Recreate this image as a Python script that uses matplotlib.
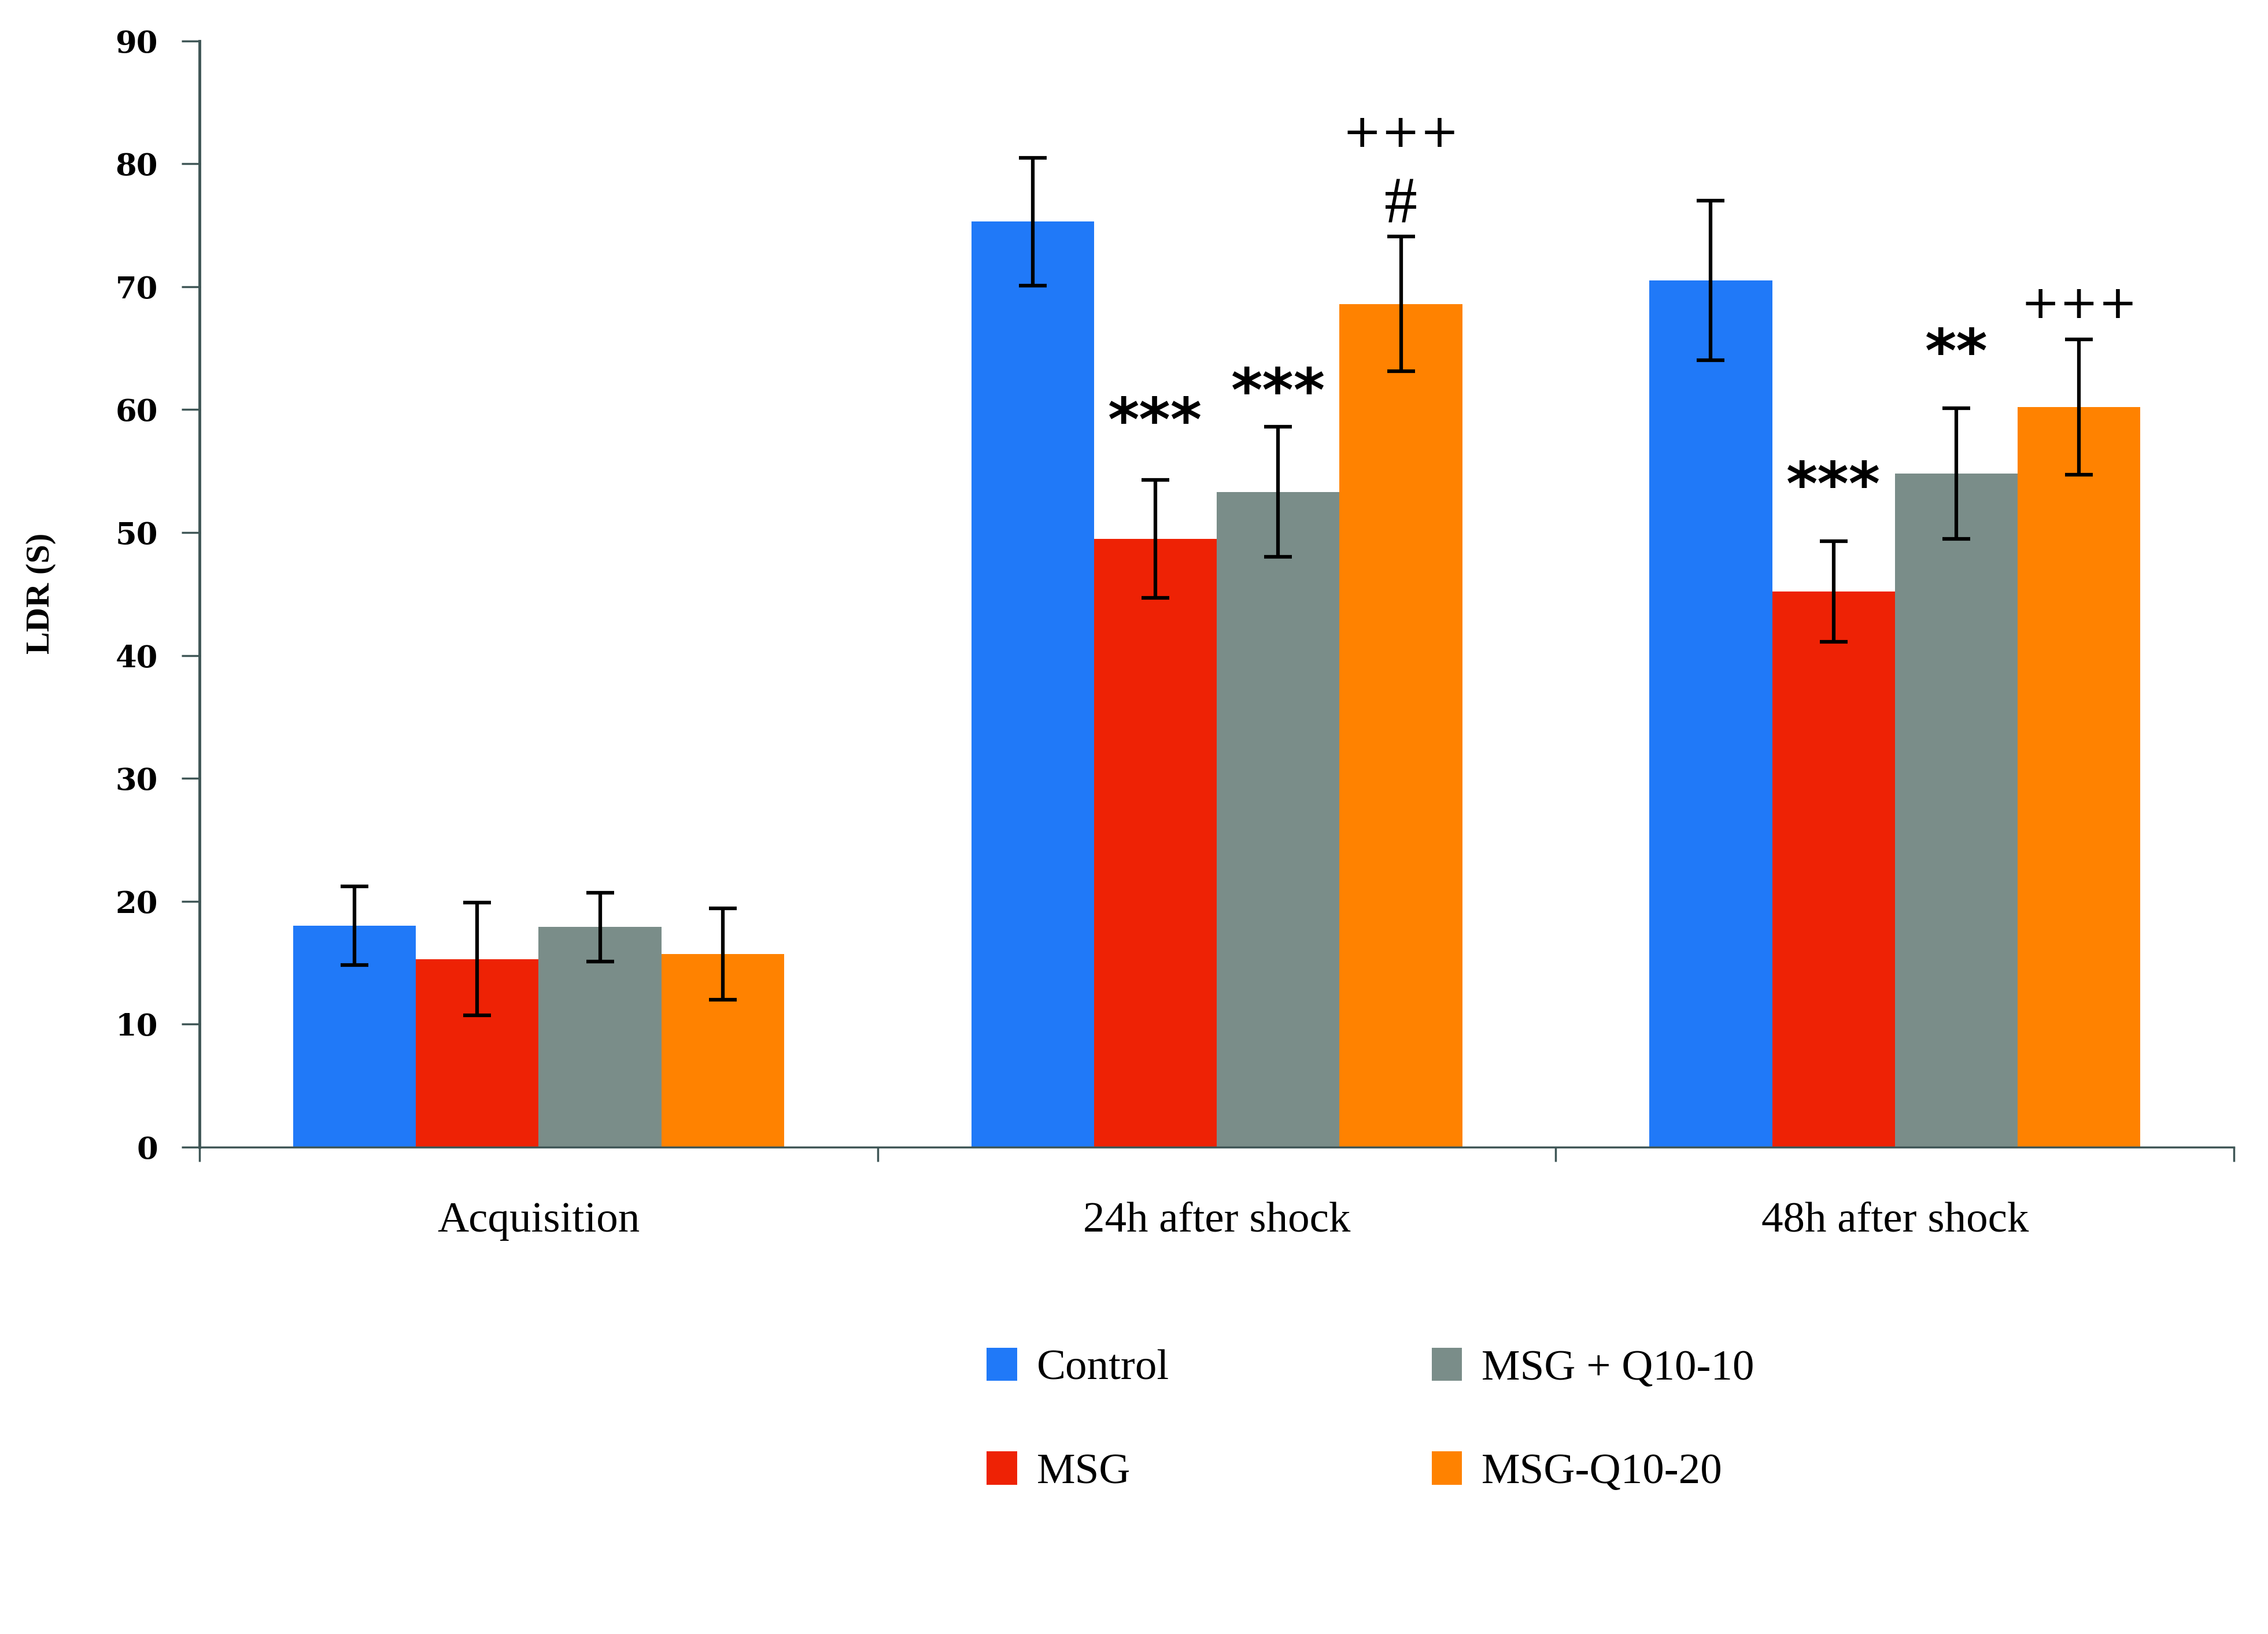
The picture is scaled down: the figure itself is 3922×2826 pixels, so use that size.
import matplotlib
matplotlib.use("Agg")
from matplotlib import pyplot as plt
import numpy as np

groups = ["Acquisition", "24h after shock", "48h after shock"]
series = ["Control", "MSG", "MSG + Q10-10", "MSG-Q10-20"]
colors = ["#2079f8", "#ee2205", "#7a8d89", "#ff8200"]

control = [18.0, 75.3, 70.5]
msg = [15.3, 49.5, 45.2]
q10_10 = [17.9, 53.3, 54.8]
q10_20 = [15.7, 68.6, 60.2]

control_err = [3.2, 5.2, 6.5]
msg_err = [4.6, 4.8, 4.1]
q10_10_err = [2.8, 5.3, 5.3]
q10_20_err = [3.7, 5.5, 5.5]

# significance marks: (group, series, text, y)
marks = [
    (1, 1, "***", 58.8),
    (1, 2, "***", 61.2),
    (1, 3, "#", 76.5),
    (1, 3, "+++", 82.4),
    (2, 1, "***", 53.6),
    (2, 2, "**", 64.4),
    (2, 3, "+++", 68.5),
]

values = [control, msg, q10_10, q10_20]
errors = [control_err, msg_err, q10_10_err, q10_20_err]

axis_col = "#3f5656"
serif = ["Liberation Serif", "DejaVu Serif"]

fig = plt.figure(figsize=(39.22, 28.26), dpi=100)
ax = fig.add_axes([0.088, 0.298, 0.897, 0.677])

x = np.arange(len(groups))
w = 0.181
for i in range(4):
    ax.bar(x + (i - 1.5) * w, values[i], w, color=colors[i], label=series[i],
           yerr=errors[i], error_kw=dict(ecolor="black", elinewidth=4.5,
                                          capsize=17, capthick=4.5), zorder=2)

for g, s, txt, y in marks:
    xx = x[g] + (s - 1.5) * w
    if txt.startswith("*"):
        ax.text(xx, y, txt, ha="center", va="center", fontsize=75,
                fontweight="bold", family="DejaVu Sans")
    elif txt == "#":
        ax.text(xx, y, txt, ha="center", va="center", fontsize=82, family=serif)
    else:
        ax.text(xx, y, txt, ha="center", va="center", fontsize=58,
                family="DejaVu Sans")

ax.set_xlim(-0.5, 2.5)
ax.set_ylim(0, 90)
ax.set_yticks(np.arange(0, 91, 10))
for lab in ax.get_yticklabels():
    lab.set_family("DejaVu Serif")
    lab.set_fontweight("bold")
    lab.set_fontsize(38)
ax.tick_params(axis="y", length=22, width=2.5, color=axis_col, pad=30)

ax.set_xticks([-0.5, 0.5, 1.5, 2.5])
ax.set_xticklabels([])
ax.tick_params(axis="x", which="major", length=18, width=2.5, color=axis_col)
ax.set_xticks(x, minor=True)
ax.set_xticklabels(groups, minor=True, fontsize=54, family=serif)
ax.tick_params(axis="x", which="minor", length=0, pad=68)

for sp in ["top", "right"]:
    ax.spines[sp].set_visible(False)
ax.spines["left"].set_color(axis_col)
ax.spines["left"].set_linewidth(3.5)
ax.spines["bottom"].set_color(axis_col)
ax.spines["bottom"].set_linewidth(2.5)

fig.text(0.018, 0.637, "LDR (S)", rotation=90, ha="center", va="center",
         fontsize=42, fontweight="bold", family=serif)

fig.legend(loc="upper left", bbox_to_anchor=(0.4255, 0.1885), ncol=2,
           frameon=False, prop={"family": serif, "size": 54},
           handlelength=0.7, handleheight=0.8, handletextpad=0.45,
           labelspacing=1.45, columnspacing=6.05, borderpad=0)

fig.savefig("out.png", dpi=100)
